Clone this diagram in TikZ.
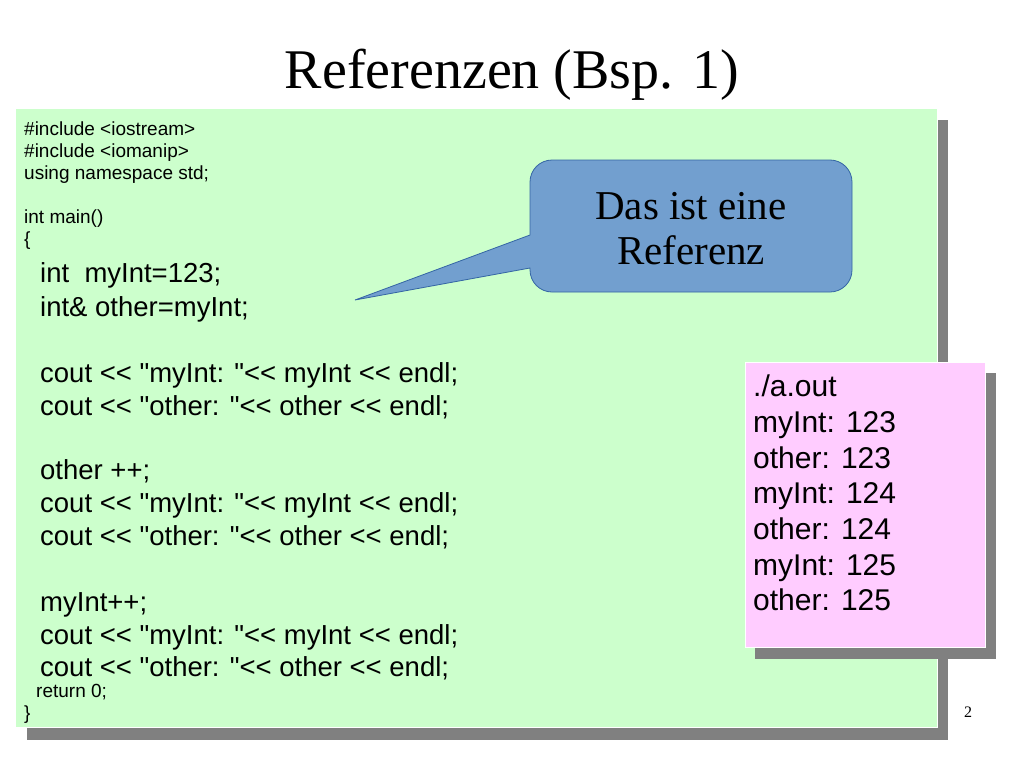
\documentclass[tikz,border=0pt]{standalone}
\usepackage{fontspec}
\setmainfont{Liberation Serif}
\newfontfamily\codefont{Liberation Sans}
\definecolor{codegreen}{HTML}{CCFFCC}
\definecolor{outpink}{HTML}{FFCCFF}
\definecolor{shadowgray}{HTML}{808080}
\definecolor{bubbleblue}{HTML}{729FCF}
\definecolor{bubbleedge}{HTML}{3465A4}
\tikzset{
  small/.style={anchor=base west, inner sep=0pt, font=\codefont\fontsize{19}{22}\selectfont},
  big/.style={anchor=base west, inner sep=0pt, font=\codefont\fontsize{27.5}{32}\selectfont},
  output/.style={anchor=base west, inner sep=0pt, font=\codefont\fontsize{30}{34}\selectfont},
}
\begin{document}
\begin{tikzpicture}[x=1pt, y=-1pt]
    \useasboundingbox (0,0) rectangle (1024,768);
    \node (title) at (512,75) {\fontsize{56}{62}\selectfont Referenzen (Bsp. 1)};
    % code box
    \fill[shadowgray] (27,120) rectangle (948,740);
    \fill[codegreen, draw=white] (15,108) rectangle (937,727);
    \node[small] (l1) at (24,135) {\#include <iostream>};
    \node[small] (l2) at (24,157) {\#include <iomanip>};
    \node[small] (l3) at (24,179) {using namespace std;};
    \node[small] (l4) at (24,223) {int main()};
    \node[small] (l5) at (24,245) {\{};
    \node[big] (l6) at (40,282) {int\ \ myInt=123;};
    \node[big] (l7) at (40,316) {int\& other=myInt;};
    \node[big] (l8) at (40,382) {cout << "myInt: "<< myInt << endl;};
    \node[big] (l9) at (40,415) {cout << "other: "<< other << endl;};
    \node[big] (l10) at (40,479) {other ++;};
    \node[big] (l11) at (40,512) {cout << "myInt: "<< myInt << endl;};
    \node[big] (l12) at (40,545) {cout << "other: "<< other << endl;};
    \node[big] (l13) at (40,611) {myInt++;};
    \node[big] (l14) at (40,644) {cout << "myInt: "<< myInt << endl;};
    \node[big] (l15) at (40,676) {cout << "other: "<< other << endl;};
    \node[small] (l16) at (36,697) {return 0;};
    \node[small] (l17) at (24,719) {\}};
    % output box
    \fill[shadowgray] (755,373) rectangle (996,659);
    \fill[outpink, draw=white] (745,362) rectangle (985,647);
    \foreach \txt [count=\i] in {./a.out, myInt: 123, other: 123, myInt: 124, other: 124, myInt: 125, other: 125} {
        \node[output] (out\i) at (753,361+35.7*\i) {\txt};
    }
    % callout
    \filldraw[fill=bubbleblue, draw=bubbleedge, line width=0.8pt]
        (530,235) [rounded corners=22] -- (530,160) -- (852,160) -- (852,292) -- (530,292)
        [sharp corners] -- (530,268) -- (355,300) -- cycle;
    \node[align=center, font=\fontsize{41}{45}\selectfont] (bubble) at (691,229) {Das ist eine\\Referenz};
    \node (page) at (968,712) {\fontsize{16}{18}\selectfont 2};
\end{tikzpicture}
\end{document}
